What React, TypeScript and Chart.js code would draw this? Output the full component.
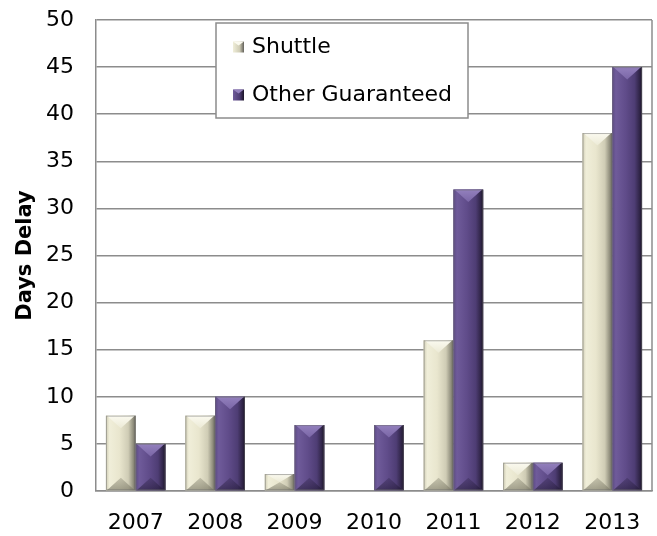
import React, { useEffect, useRef } from "react";
import { Chart, registerables } from "chart.js";

Chart.register(...registerables);

const categories = ["2007", "2008", "2009", "2010", "2011", "2012", "2013"];
const seriesNames = ["Shuttle", "Other Guaranteed"];
const shuttleValues = [8, 8, 1.8, 0, 16, 3, 38];
const otherValues = [5, 10, 7, 7, 32, 3, 45];
const yMin = 0;
const yMax = 50;
const yStep = 5;
const yTitle = "Days Delay";

const FONT = '"DejaVu Sans", sans-serif';

const palettes = [
  {
    base: "#e4e1c9",
    stops: ["#cfccb4", "#f0eed9", "#e9e6ce", "#cfccb5", "#8f8d7c", "#62605a"],
    top: ["#fbfaf0", "#ecead6"],
    bottom: ["rgba(150,148,128,0.45)", "rgba(120,118,100,0.65)"],
  },
  {
    base: "#5a4682",
    stops: ["#5d4a86", "#6f5b9a", "#604c8a", "#4e3d74", "#2f2446", "#1a1327"],
    top: ["#9380bd", "#7a66a6"],
    bottom: ["rgba(50,38,78,0.35)", "rgba(30,22,48,0.55)"],
  },
];

const bevelPlugin = {
  id: "bevel",
  afterDatasetsDraw(chart: any) {
    const ctx: CanvasRenderingContext2D = chart.ctx;
    chart.data.datasets.forEach((_ds: any, i: number) => {
      const meta = chart.getDatasetMeta(i);
      const p = palettes[i];
      meta.data.forEach((el: any) => {
        const { x, y, base, width } = el.getProps(["x", "y", "base", "width"], true);
        const x0 = x - width / 2;
        const x1 = x + width / 2;
        const y0 = Math.min(y, base);
        const y1 = Math.max(y, base);
        const h = y1 - y0;
        if (h < 0.5) return;
        ctx.save();
        const g = ctx.createLinearGradient(x0, 0, x1, 0);
        const pos = [0, 0.12, 0.45, 0.75, 0.92, 1];
        p.stops.forEach((c, k) => g.addColorStop(pos[k], c));
        ctx.fillStyle = g;
        ctx.fillRect(x0, y0, width, h);
        const d = Math.min(width * 0.42, h / 2);
        const xc = x;
        // top facet
        const gt = ctx.createLinearGradient(0, y0, 0, y0 + d);
        gt.addColorStop(0, p.top[0]);
        gt.addColorStop(1, p.top[1]);
        ctx.fillStyle = gt;
        ctx.beginPath();
        ctx.moveTo(x0 + 1, y0);
        ctx.lineTo(x1 - 1, y0);
        ctx.lineTo(xc, y0 + d);
        ctx.closePath();
        ctx.fill();
        // bottom facet
        const gb = ctx.createLinearGradient(0, y1 - d, 0, y1);
        gb.addColorStop(0, p.bottom[0]);
        gb.addColorStop(1, p.bottom[1]);
        ctx.fillStyle = gb;
        ctx.beginPath();
        ctx.moveTo(x0 + 1, y1);
        ctx.lineTo(x1 - 1, y1);
        ctx.lineTo(xc, y1 - d);
        ctx.closePath();
        ctx.fill();
        // outline
        ctx.strokeStyle = "rgba(110,110,110,0.5)";
        ctx.lineWidth = 1;
        ctx.strokeRect(x0 + 0.5, y0 + 0.5, width - 1, h - 1);
        ctx.restore();
      });
    });
  },
};

const framePlugin = {
  id: "frame",
  beforeDatasetsDraw(chart: any) {
    const { ctx, chartArea } = chart;
    ctx.save();
    ctx.strokeStyle = "#8c8c8c";
    ctx.lineWidth = 1.5;
    ctx.beginPath();
    ctx.moveTo(chartArea.right, chartArea.top);
    ctx.lineTo(chartArea.right, chartArea.bottom);
    ctx.stroke();
    ctx.restore();
  },
};

const legendPlugin = {
  id: "boxLegend",
  afterDraw(chart: any) {
    const { ctx, chartArea } = chart;
    const bx = chartArea.left + 120;
    const by = chartArea.top + 3;
    const bw = 252;
    const bh = 95;
    ctx.save();
    ctx.fillStyle = "#ffffff";
    ctx.fillRect(bx, by, bw, bh);
    ctx.strokeStyle = "#8c8c8c";
    ctx.lineWidth = 1.5;
    ctx.strokeRect(bx, by, bw, bh);
    const rows = [by + 24, by + 72];
    chart.data.datasets.forEach((ds: any, i: number) => {
      const cy = rows[i];
      const p = palettes[i];
      const mx = bx + 17;
      const ms = 11;
      const g = ctx.createLinearGradient(mx, 0, mx + ms, 0);
      g.addColorStop(0, p.stops[1]);
      g.addColorStop(0.6, p.stops[3]);
      g.addColorStop(1, p.stops[5]);
      ctx.fillStyle = g;
      ctx.fillRect(mx, cy - ms / 2, ms, ms);
      ctx.fillStyle = p.top[0];
      ctx.beginPath();
      ctx.moveTo(mx, cy - ms / 2);
      ctx.lineTo(mx + ms, cy - ms / 2);
      ctx.lineTo(mx + ms / 2, cy - ms / 2 + 4);
      ctx.closePath();
      ctx.fill();
      ctx.fillStyle = "#000000";
      ctx.font = `22px ${FONT}`;
      ctx.textBaseline = "middle";
      ctx.textAlign = "left";
      ctx.fillText(ds.label, bx + 36, cy);
    });
    ctx.restore();
  },
};

export default function App() {
  const canvasRef = useRef<HTMLCanvasElement | null>(null);

  useEffect(() => {
    document.body.style.margin = "0";
    const canvas = canvasRef.current;
    if (!canvas) return;
    const chart = new Chart(canvas, {
      type: "bar",
      data: {
        labels: categories,
        datasets: [
          {
            label: seriesNames[0],
            data: shuttleValues,
            backgroundColor: palettes[0].base,
            borderWidth: 0,
            categoryPercentage: 0.75,
            barPercentage: 1,
          },
          {
            label: seriesNames[1],
            data: otherValues,
            backgroundColor: palettes[1].base,
            borderWidth: 0,
            categoryPercentage: 0.75,
            barPercentage: 1,
          },
        ],
      },
      options: {
        animation: false,
        responsive: true,
        maintainAspectRatio: false,
        layout: { padding: { top: 20, right: 5, left: 0, bottom: 0 } },
        plugins: {
          legend: { display: false },
          tooltip: { enabled: false },
        },
        scales: {
          x: {
            grid: {
              display: true,
              drawOnChartArea: false,
              drawTicks: true,
              tickLength: 17,
              tickColor: "rgba(0,0,0,0)",
            },
            border: { display: true, color: "#8c8c8c", width: 1.5 },
            ticks: {
              color: "#000000",
              padding: 2,
              font: { family: FONT, size: 22 },
            },
            afterFit(s: any) {
              s.height = 45;
            },
          },
          y: {
            min: yMin,
            max: yMax,
            ticks: {
              stepSize: yStep,
              color: "#000000",
              padding: 2,
              font: { family: FONT, size: 22 },
            },
            grid: {
              color: "#8c8c8c",
              lineWidth: 1.5,
              drawTicks: true,
              tickLength: 20,
              tickColor: "rgba(0,0,0,0)",
            },
            border: { display: true, color: "#8c8c8c", width: 1.5 },
            title: {
              display: true,
              text: yTitle,
              color: "#000000",
              font: { family: FONT, size: 21, weight: "bold" },
              padding: { top: 13, bottom: 0 },
            },
            afterFit(s: any) {
              s.width = 96;
            },
          },
        },
      },
      plugins: [framePlugin, bevelPlugin, legendPlugin],
    });
    return () => chart.destroy();
  }, []);

  return (
    <div style={{ width: 657, height: 536, position: "relative" }}>
      <canvas ref={canvasRef} />
    </div>
  );
}
